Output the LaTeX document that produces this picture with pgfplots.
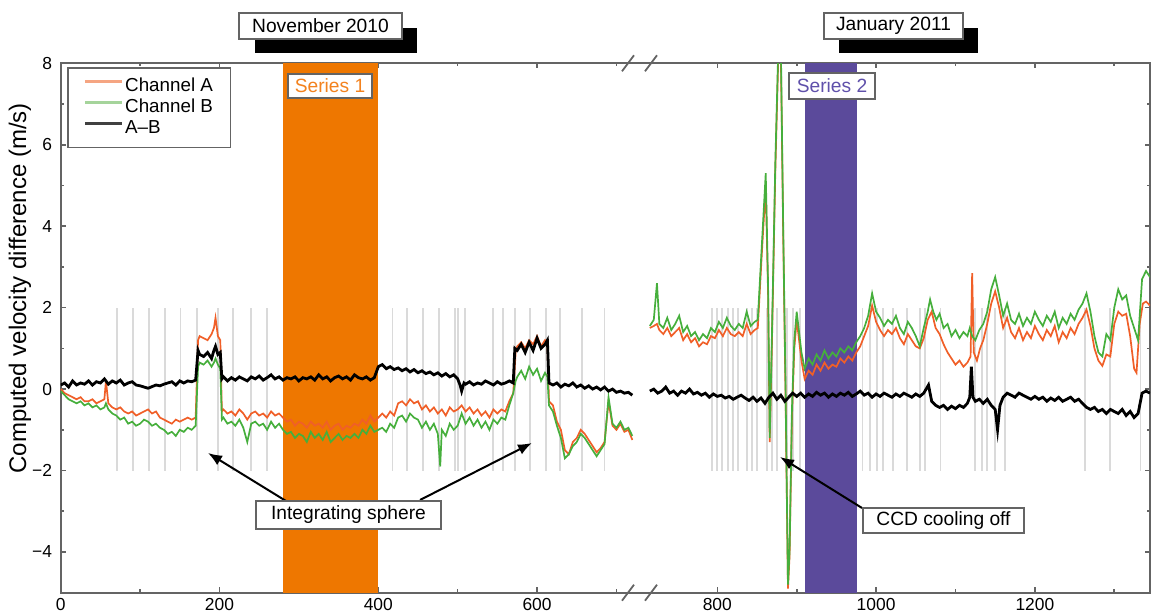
\documentclass[border=0pt]{standalone}
\usepackage{fontspec}
\setmainfont{Liberation Sans}
\usepackage{pgfplots}
\pgfplotsset{compat=1.18}
\usetikzlibrary{arrows.meta}
\definecolor{bandorange}{RGB}{238,119,0}
\definecolor{bandpurple}{RGB}{91,74,155}
\definecolor{chA}{RGB}{240,95,40}
\definecolor{chB}{RGB}{70,175,60}
\definecolor{chAl}{RGB}{245,165,130}
\definecolor{chBl}{RGB}{165,212,155}
\definecolor{axisgray}{RGB}{100,100,100}
\definecolor{vgray}{RGB}{218,218,218}
\definecolor{s1txt}{RGB}{243,130,30}
\definecolor{s2txt}{RGB}{95,80,170}
\newcommand\ftxt{\fontsize{9.6}{11}\selectfont}
\begin{document}
\begin{tikzpicture}
\useasboundingbox (-30.35pt,-10.65pt) rectangle (545.15pt,296.35pt);
\begin{axis}[
  at={(0,0)}, anchor=south west,
  scale only axis, width=544.65pt, height=264.7pt,
  xmin=0, xmax=1372, ymin=-5, ymax=8,
  xtick={0,200,400,600,827,1027,1227},
  xticklabels={0,200,400,600,800,1000,1200},
  minor xtick={100,300,500,700,927,1127,1327},
  ytick={-4,-2,0,2,4,6,8},
  yticklabels={−4,−2,0,2,4,6,8},
  minor ytick={-3,-1,1,3,5,7},
  tick align=inside, tick pos=both,
  major tick length=2.6pt, minor tick length=1.6pt,
  axis line style={draw=axisgray, line width=0.9pt},
  every tick/.style={draw=axisgray, line width=0.8pt},
  tick label style={font=\fontsize{8.7}{10}\selectfont},
  /pgf/number format/assume math mode=true,
  xticklabel style={yshift=0.9pt},
  yticklabel style={xshift=-0.8pt},
  ylabel={Computed velocity difference (m/s)},
  ylabel style={font=\fontsize{12}{13}\selectfont, at={(axis description cs:-0.0374,0.575)}, anchor=center},
  legend style={at={(axis description cs:0,1)}, anchor=north west, xshift=3.15pt, yshift=-1.85pt,
    draw=axisgray, line width=0.8pt, fill=white, font=\fontsize{9.4}{10}\selectfont,
    inner xsep=8pt, inner ysep=4pt, row sep=0pt,
    nodes={inner sep=0.8pt, text height=7pt, text depth=2pt}, cells={anchor=west}},
  legend image code/.code={\draw[#1] (0pt,2.5pt) -- (18.5pt,2.5pt);},
]
% grey vertical markers (left segment)
\addplot[ycomb, vgray, line width=0.9pt, forget plot, mark=none] coordinates {
(71,2) (91,2) (111,2) (131,2) (151,2) (172,2) (198,2) (217,2) (240,2) (260,2) (418,2) (436,2) (456,2) (476,2) (497,2) (500,2) (509,2) (544,2) (557,2) (572,2) (591,2) (611,2) (629,2) (657,2) (685,2)};
\addplot[ycomb, vgray, line width=0.9pt, forget plot, mark=none] coordinates {
(71,-2) (91,-2) (111,-2) (131,-2) (151,-2) (172,-2) (198,-2) (217,-2) (240,-2) (260,-2) (418,-2) (436,-2) (456,-2) (476,-2) (497,-2) (500,-2) (509,-2) (544,-2) (557,-2) (572,-2) (591,-2) (611,-2) (629,-2) (657,-2) (685,-2)};
% grey vertical markers (right segment, shifted by the axis break)
\addplot[ycomb, vgray, line width=0.9pt, forget plot, mark=none, x filter/.expression={x+27}] coordinates {
(793,2) (800,2) (806,2) (813,2) (820,2) (826,2) (837,2) (844,2) (850,2) (863,2) (869,2) (875,2) (888,2) (895,2) (904,2) (983,2) (992,2) (1001,2) (1009,2) (1021,2) (1039,2) (1055,2) (1062,2) (1081,2) (1125,2) (1133,2) (1140,2) (1150,2) (1162,2) (1263,2) (1295,2) (1333,2)};
\addplot[ycomb, vgray, line width=0.9pt, forget plot, mark=none, x filter/.expression={x+27}] coordinates {
(793,-2) (800,-2) (806,-2) (813,-2) (820,-2) (826,-2) (837,-2) (844,-2) (850,-2) (863,-2) (869,-2) (875,-2) (888,-2) (895,-2) (904,-2) (983,-2) (992,-2) (1001,-2) (1009,-2) (1021,-2) (1039,-2) (1055,-2) (1062,-2) (1081,-2) (1125,-2) (1133,-2) (1140,-2) (1150,-2) (1162,-2) (1263,-2) (1295,-2) (1333,-2)};
% Series bands
\addplot[fill=bandorange, draw=none, forget plot] coordinates {(280,-5) (400,-5) (400,8) (280,8)} -- cycle;
\addplot[fill=bandpurple, draw=none, forget plot, x filter/.expression={x+27}] coordinates {(910,-5) (976,-5) (976,8) (910,8)} -- cycle;
% Channel A, left
\addplot[chA, line width=0.85pt, forget plot] coordinates {
(0,0.0) (5,-0.1) (10,-0.15) (15,-0.2) (20,-0.25) (25,-0.2) (30,-0.3) (35,-0.3) (40,-0.25) (45,-0.35) (50,-0.3) (55,-0.25) (57,0.2) (60,-0.35) (65,-0.45) (70,-0.5) (75,-0.45) (80,-0.55) (85,-0.6) (90,-0.55) (95,-0.65) (100,-0.6) (105,-0.55) (110,-0.5) (115,-0.6) (120,-0.55) (125,-0.7) (130,-0.75) (135,-0.8) (140,-0.85) (145,-0.75) (150,-0.8) (155,-0.75) (160,-0.7) (165,-0.75) (170,-0.7) (173,1.2) (175,1.3) (180,1.25) (185,1.2) (190,1.35) (193,1.5) (195,1.75) (198,1.3) (201,1.2) (203,-0.55) (205,-0.5) (210,-0.6) (215,-0.55) (220,-0.65) (225,-0.5) (230,-0.6) (235,-0.75) (240,-0.6) (245,-0.55) (250,-0.65) (255,-0.6) (260,-0.7) (265,-0.55) (270,-0.65) (275,-0.6) (280,-0.7) (285,-0.8) (290,-0.75) (295,-0.9) (300,-0.8) (305,-0.85) (310,-0.95) (315,-0.8) (320,-0.9) (325,-0.85) (330,-0.95) (335,-0.8) (340,-1.0) (345,-0.9) (350,-0.85) (355,-1.0) (360,-0.9) (365,-0.95) (370,-0.85) (375,-0.9) (380,-0.75) (385,-0.85) (390,-0.65) (395,-0.8) (400,-0.7) (405,-0.6) (410,-0.7) (415,-0.55) (420,-0.65) (425,-0.35) (430,-0.3) (435,-0.4) (440,-0.25) (445,-0.35) (450,-0.3) (455,-0.5) (460,-0.4) (465,-0.55) (470,-0.45) (475,-0.6) (480,-0.5) (485,-0.65) (490,-0.45) (495,-0.55) (500,-0.5) (505,-0.4) (510,-0.55) (515,-0.45) (520,-0.6) (525,-0.5) (530,-0.65) (535,-0.55) (540,-0.7) (545,-0.5) (550,-0.6) (555,-0.5) (560,-0.55) (565,-0.3) (570,-0.1) (573,0.9) (575,1.05) (580,1.15) (585,1.0) (590,1.2) (595,1.1) (600,1.3) (605,1.05) (610,1.2) (613,1.1) (615,-0.3) (620,-0.4) (625,-0.8) (630,-1.0) (635,-1.5) (640,-1.6) (645,-1.3) (650,-1.2) (655,-1.0) (660,-1.1) (665,-1.25) (670,-1.4) (675,-1.55) (680,-1.45) (685,-1.3) (690,-0.3) (695,-0.9) (700,-1.0) (705,-0.85) (710,-1.05) (715,-1.0) (720,-1.25)};
% Channel A, right
\addplot[chA, line width=0.85pt, forget plot, x filter/.expression={x+27}] coordinates {
(715,1.5) (720,1.55) (724,1.6) (727,1.45) (732,1.35) (737,1.5) (742,1.3) (747,1.4) (752,1.5) (757,1.2) (762,1.35) (767,1.15) (772,1.25) (777,1.05) (782,1.15) (787,1.1) (792,1.3) (797,1.25) (802,1.45) (807,1.3) (812,1.5) (817,1.35) (822,1.3) (827,1.4) (832,1.3) (837,1.6) (842,1.35) (847,1.45) (851,1.5) (856,3.3) (861,5.0) (864,2.3) (866,-1.3) (869,1.3) (873,5.3) (877,8.3) (880,8.3) (883,3.8) (886,-0.2) (889,-4.9) (891,-4.1) (894,-0.7) (897,1.0) (900,1.7) (903,1.2) (906,0.7) (910,0.25) (915,0.45) (920,0.35) (925,0.6) (930,0.45) (935,0.65) (940,0.5) (945,0.6) (950,0.55) (955,0.75) (960,0.65) (965,0.8) (970,0.7) (975,0.9) (980,1.05) (985,1.3) (990,1.55) (995,2.05) (1000,1.65) (1005,1.45) (1010,1.3) (1015,1.45) (1020,1.35) (1025,1.5) (1030,1.25) (1035,1.1) (1040,1.35) (1045,1.2) (1050,1.05) (1055,1.0) (1060,1.25) (1065,1.7) (1070,1.9) (1075,1.5) (1080,1.35) (1085,1.1) (1090,0.9) (1095,0.75) (1100,0.6) (1105,0.7) (1110,0.55) (1115,0.65) (1119,0.8) (1121,2.85) (1123,0.9) (1127,0.7) (1131,1.0) (1135,1.2) (1140,1.6) (1145,2.1) (1150,2.4) (1155,2.0) (1160,1.5) (1165,1.75) (1170,1.4) (1175,1.25) (1180,1.5) (1185,1.2) (1190,1.4) (1195,1.25) (1200,1.55) (1205,1.35) (1210,1.2) (1215,1.45) (1220,1.3) (1225,1.55) (1230,1.15) (1235,1.4) (1240,1.25) (1245,1.5) (1250,1.35) (1255,1.6) (1260,1.75) (1265,1.95) (1270,1.55) (1275,1.0) (1280,0.7) (1285,0.57) (1290,0.85) (1295,0.8) (1300,1.6) (1305,1.9) (1310,1.8) (1315,1.85) (1320,1.3) (1325,0.5) (1328,0.4) (1332,1.6) (1336,2.1) (1340,2.15) (1345,2.05)};
% Channel B, left
\addplot[chB, line width=0.85pt, forget plot] coordinates {
(0,-0.05) (5,-0.15) (10,-0.25) (15,-0.3) (20,-0.35) (25,-0.3) (30,-0.4) (35,-0.35) (40,-0.45) (45,-0.4) (50,-0.5) (55,-0.45) (57,-0.35) (60,-0.5) (65,-0.6) (70,-0.65) (75,-0.75) (80,-0.7) (85,-0.85) (90,-0.8) (95,-0.9) (100,-0.85) (105,-0.75) (110,-0.8) (115,-0.9) (120,-0.85) (125,-0.95) (130,-1.0) (135,-1.1) (140,-1.05) (145,-1.15) (150,-1.0) (155,-1.05) (160,-0.95) (165,-1.0) (170,-0.9) (173,0.55) (175,0.65) (180,0.6) (185,0.7) (190,0.55) (193,0.65) (195,0.75) (198,0.6) (201,0.5) (203,-0.75) (205,-0.7) (210,-0.85) (215,-0.8) (220,-0.9) (225,-0.75) (230,-0.95) (235,-1.3) (240,-0.85) (245,-0.8) (250,-0.9) (255,-0.85) (260,-1.0) (265,-0.8) (270,-0.95) (275,-0.85) (280,-1.0) (285,-1.1) (290,-1.05) (295,-1.2) (300,-1.1) (305,-1.15) (310,-1.3) (315,-1.05) (320,-1.2) (325,-1.1) (330,-1.25) (335,-1.05) (340,-1.3) (345,-1.2) (350,-1.1) (355,-1.25) (360,-1.15) (365,-1.2) (370,-1.1) (375,-1.2) (380,-1.0) (385,-1.1) (390,-0.9) (395,-1.05) (400,-1.0) (405,-0.95) (410,-1.05) (415,-0.85) (420,-0.95) (425,-0.7) (430,-0.65) (435,-0.8) (440,-0.6) (445,-0.7) (450,-0.75) (455,-0.95) (460,-0.8) (465,-1.0) (470,-0.85) (475,-1.1) (478,-1.9) (480,-1.0) (485,-1.15) (490,-0.85) (495,-1.0) (500,-0.9) (505,-0.6) (510,-0.85) (515,-0.7) (520,-0.9) (525,-0.75) (530,-0.95) (535,-0.8) (540,-1.0) (545,-0.75) (550,-0.85) (555,-0.7) (560,-0.75) (565,-0.4) (570,-0.1) (573,0.2) (575,0.3) (580,0.45) (585,0.25) (590,0.55) (595,0.35) (600,0.5) (605,0.2) (610,0.4) (613,0.3) (615,-0.4) (620,-0.55) (625,-0.9) (630,-1.2) (635,-1.7) (640,-1.6) (645,-1.4) (650,-1.3) (655,-1.1) (660,-1.2) (665,-1.35) (670,-1.5) (675,-1.65) (680,-1.5) (685,-1.35) (690,-0.2) (695,-0.85) (700,-0.95) (705,-0.8) (710,-1.0) (715,-0.95) (720,-1.15)};
% Channel B, right
\addplot[chB, line width=0.85pt, forget plot, x filter/.expression={x+27}] coordinates {
(715,1.55) (720,1.7) (724,2.6) (727,1.6) (732,1.5) (737,1.75) (742,1.45) (747,1.6) (752,1.8) (757,1.4) (762,1.55) (767,1.3) (772,1.4) (777,1.2) (782,1.35) (787,1.25) (792,1.5) (797,1.4) (802,1.65) (807,1.5) (812,1.75) (817,1.55) (822,1.45) (827,1.6) (832,1.5) (837,1.9) (842,1.55) (847,1.65) (851,1.7) (856,3.5) (861,5.3) (864,2.5) (866,-1.2) (869,1.5) (873,5.5) (877,8.5) (880,8.5) (883,4.0) (886,0.0) (889,-4.8) (891,-4.0) (894,-0.5) (897,1.2) (900,1.9) (903,1.4) (906,0.9) (910,0.5) (915,0.75) (920,0.6) (925,0.85) (930,0.7) (935,0.95) (940,0.75) (945,0.9) (950,0.8) (955,1.0) (960,0.9) (965,1.05) (970,0.95) (975,1.15) (980,1.3) (985,1.5) (990,1.8) (995,2.35) (1000,1.9) (1005,1.75) (1010,1.55) (1015,1.7) (1020,1.6) (1025,1.8) (1030,1.5) (1035,1.35) (1040,1.65) (1045,1.5) (1050,1.3) (1055,1.05) (1060,1.5) (1065,1.9) (1068,2.2) (1072,1.9) (1076,1.7) (1080,1.85) (1085,1.5) (1090,1.6) (1095,1.3) (1100,1.45) (1105,1.25) (1110,1.4) (1115,1.3) (1118,1.5) (1121,1.3) (1125,1.2) (1130,1.45) (1135,1.6) (1140,1.9) (1145,2.45) (1150,2.75) (1155,2.3) (1160,1.8) (1165,2.1) (1170,1.7) (1175,1.6) (1180,1.85) (1185,1.55) (1190,1.75) (1195,1.6) (1200,1.9) (1205,1.7) (1210,1.55) (1215,1.8) (1220,1.65) (1225,1.9) (1230,1.5) (1235,1.75) (1240,1.6) (1245,1.85) (1250,1.7) (1255,1.95) (1260,2.1) (1265,2.35) (1270,1.9) (1275,1.3) (1280,0.9) (1285,0.8) (1290,1.35) (1295,1.2) (1300,2.0) (1305,2.45) (1310,2.2) (1315,2.3) (1320,1.8) (1325,1.5) (1330,1.2) (1335,2.7) (1340,2.9) (1345,2.75)};
% A-B, left
\addplot[black, line width=1.4pt, forget plot] coordinates {
(0,0.1) (5,0.15) (10,0.05) (15,0.2) (20,0.1) (25,0.15) (30,0.12) (35,0.2) (40,0.1) (45,0.18) (50,0.15) (55,0.25) (60,0.12) (65,0.2) (70,0.15) (75,0.22) (80,0.1) (85,0.15) (90,0.18) (95,0.1) (100,0.08) (105,0.05) (110,0.02) (115,0.06) (120,0.1) (125,0.08) (130,0.12) (135,0.15) (140,0.18) (145,0.1) (150,0.2) (155,0.15) (160,0.2) (165,0.18) (170,0.22) (173,0.95) (175,0.85) (180,0.8) (185,0.9) (190,0.75) (193,0.95) (195,1.05) (198,0.85) (201,0.9) (203,0.25) (205,0.3) (210,0.2) (215,0.28) (220,0.22) (225,0.3) (230,0.25) (235,0.2) (240,0.3) (245,0.25) (250,0.32) (255,0.22) (260,0.28) (265,0.35) (270,0.25) (275,0.3) (280,0.22) (285,0.28) (290,0.25) (295,0.3) (300,0.2) (305,0.28) (310,0.25) (315,0.3) (320,0.22) (325,0.35) (330,0.25) (335,0.3) (340,0.2) (345,0.28) (350,0.32) (355,0.25) (360,0.3) (365,0.22) (370,0.35) (375,0.28) (380,0.25) (385,0.3) (390,0.22) (395,0.28) (400,0.55) (405,0.6) (410,0.5) (415,0.55) (420,0.48) (425,0.52) (430,0.45) (435,0.5) (440,0.42) (445,0.48) (450,0.4) (455,0.45) (460,0.38) (465,0.42) (470,0.35) (475,0.4) (480,0.32) (485,0.38) (490,0.3) (495,0.35) (500,0.25) (503,0.1) (505,-0.05) (508,0.15) (510,0.12) (515,0.18) (520,0.1) (525,0.15) (530,0.12) (535,0.2) (540,0.15) (545,0.1) (550,0.18) (555,0.12) (560,0.15) (565,0.2) (570,0.15) (572,1.0) (575,0.95) (580,1.1) (585,0.9) (590,1.15) (595,0.95) (600,1.25) (605,1.0) (610,1.1) (613,1.2) (615,0.15) (620,0.1) (625,0.15) (630,0.05) (635,0.12) (640,0.08) (645,0.15) (650,0.05) (655,0.1) (660,0.02) (665,0.08) (670,0.0) (675,0.05) (680,-0.02) (685,0.05) (690,-0.05) (695,0.0) (700,-0.08) (705,-0.05) (710,-0.1) (715,-0.08) (720,-0.15)};
% A-B, right
\addplot[black, line width=1.4pt, forget plot, x filter/.expression={x+27}] coordinates {
(715,-0.05) (720,0.0) (725,-0.1) (730,-0.05) (735,0.05) (740,-0.1) (745,-0.05) (750,-0.15) (755,-0.05) (760,-0.1) (765,0.0) (770,-0.12) (775,-0.08) (780,-0.15) (785,-0.1) (790,-0.2) (795,-0.12) (800,-0.18) (805,-0.15) (810,-0.22) (815,-0.18) (820,-0.25) (825,-0.2) (830,-0.15) (835,-0.22) (840,-0.28) (845,-0.2) (850,-0.3) (855,-0.22) (860,-0.35) (865,-0.2) (870,-0.1) (875,-0.25) (880,-0.15) (885,-0.3) (890,-0.2) (895,-0.1) (900,-0.18) (905,-0.1) (910,-0.2) (915,-0.12) (920,-0.18) (925,-0.08) (930,-0.15) (935,-0.1) (940,-0.2) (945,-0.12) (950,-0.18) (955,-0.1) (960,-0.15) (965,-0.08) (970,-0.18) (975,-0.12) (980,-0.05) (985,-0.15) (990,-0.1) (995,-0.2) (1000,-0.12) (1005,-0.18) (1010,-0.1) (1015,-0.15) (1020,-0.2) (1025,-0.12) (1030,-0.18) (1035,-0.1) (1040,-0.15) (1045,-0.2) (1050,-0.12) (1055,-0.18) (1060,-0.1) (1066,0.1) (1070,-0.3) (1075,-0.4) (1080,-0.45) (1085,-0.4) (1090,-0.5) (1095,-0.42) (1100,-0.48) (1105,-0.4) (1110,-0.45) (1115,-0.35) (1118,-0.2) (1120,0.55) (1122,-0.2) (1125,-0.3) (1130,-0.25) (1135,-0.35) (1140,-0.25) (1145,-0.4) (1150,-0.5) (1153,-1.0) (1156,-0.4) (1160,-0.2) (1165,-0.1) (1170,-0.15) (1175,-0.2) (1180,-0.1) (1185,-0.15) (1190,-0.2) (1195,-0.25) (1200,-0.18) (1205,-0.25) (1210,-0.2) (1215,-0.3) (1220,-0.22) (1225,-0.28) (1230,-0.2) (1235,-0.3) (1240,-0.25) (1245,-0.2) (1250,-0.3) (1255,-0.25) (1260,-0.35) (1265,-0.45) (1270,-0.5) (1275,-0.45) (1280,-0.55) (1285,-0.5) (1290,-0.6) (1295,-0.5) (1300,-0.55) (1305,-0.6) (1310,-0.5) (1315,-0.65) (1320,-0.55) (1325,-0.7) (1330,-0.6) (1335,-0.1) (1340,-0.05) (1345,-0.1)};
\addlegendimage{chAl, line width=1.2pt}
\addlegendentry{Channel A}
\addlegendimage{chBl, line width=1.2pt}
\addlegendentry{Channel B}
\addlegendimage{black!75, line width=1.4pt}
\addlegendentry{A–B}
\end{axis}
% annotations, in reference-pixel coordinates
\begin{scope}[x=0.5pt, y=-0.5pt, shift={(-30.35pt,296.35pt)}]
  \tikzset{abox/.style={fill=white, draw=axisgray, line width=1pt}}
  % axis break marks
  \foreach \bx in {628,651} {
    \draw[axisgray, line width=0.9pt] (\bx-6,600.7) -- (\bx+6,584.7);
    \draw[axisgray, line width=0.9pt] (\bx-6,71.3) -- (\bx+6,55.3);
  }
  % month labels
  \fill[black] (255,28) rectangle (417,53);
  \draw[abox] (239,13) rectangle (402,39);
  \node[font=\ftxt] at (320.5,26) {November 2010};
  \fill[black] (839,28) rectangle (978,53);
  \draw[abox] (824,13) rectangle (963,39);
  \node[font=\ftxt] at (893.5,26) {January 2011};
  % series labels
  \draw[abox] (288,74) rectangle (372,98);
  \node[font=\ftxt, text=s1txt] at (330,86) {Series 1};
  \draw[abox] (789,73) rectangle (875,99);
  \node[font=\ftxt, text=s2txt] at (832,86) {Series 2};
  % arrows and callouts
  \draw[black, line width=1pt, -{Latex[length=7pt,width=5.5pt]}] (286,501) -- (208,453);
  \draw[black, line width=1pt, -{Latex[length=7pt,width=5.5pt]}] (420,500) -- (532,443);
  \draw[black, line width=1pt, -{Latex[length=7pt,width=5.5pt]}] (862,508) -- (780,457);
  \draw[abox] (256,501) rectangle (441,529);
  \node[font=\ftxt] at (348.5,515) {Integrating sphere};
  \draw[abox] (863,508) rectangle (1024,533);
  \node[font=\ftxt] at (943.5,520.5) {CCD cooling off};
\end{scope}
\end{tikzpicture}
\end{document}
